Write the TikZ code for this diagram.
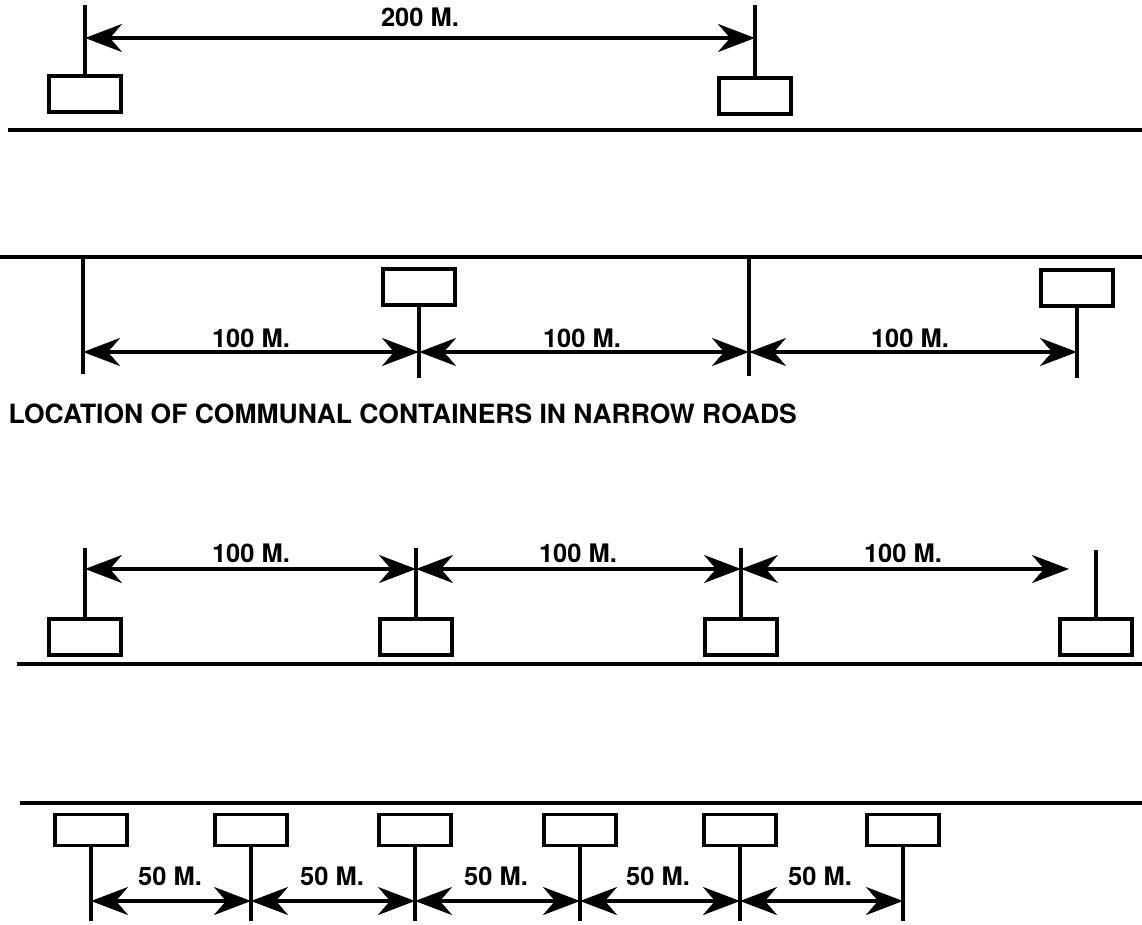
\documentclass[tikz,border=0pt]{standalone}
\usepackage{fontspec}
\setmainfont{TeX Gyre Heros}
\usetikzlibrary{arrows.meta,positioning}

\begin{document}
\begin{tikzpicture}[x=1pt,y=-1pt,line width=3.3pt,
  box/.style={draw,rectangle,minimum width=72pt,minimum height=36pt,inner sep=0pt},
  lowbox/.style={box,minimum height=31pt},
  dim/.style={{Stealth[length=37pt,width=28pt,inset=12pt]}-{Stealth[length=37pt,width=28pt,inset=12pt]}},
  lbl/.style={font=\fontsize{25.5}{30}\bfseries\selectfont,anchor=base,inner sep=0pt}]
  \useasboundingbox (0,0) rectangle (1142,925);

  \draw (8,130) -- (1142,130);
  \node[box] (a1) at (85,94) {};
  \node[box] (a2) at (755,96) {};
  \coordinate (a1t) at (85,5);
  \coordinate (a2t) at (755,5);
  \coordinate (a1m) at (85,38);
  \coordinate (a2m) at (755,38);
  \draw (a1.north) -- (a1t);
  \draw (a2.north) -- (a2t);
  \draw[dim] (a1m) -- (a2m);
  \node[lbl] (d1) at (420,27) {200 M.};

  \draw (0,257) -- (1142,257);
  \node[box] (b2) at (419,287) {};
  \node[box] (b4) at (1077,288) {};
  \coordinate (b1t) at (83,257);
  \coordinate (b1b) at (83,374);
  \coordinate (b2b) at (419,378);
  \coordinate (b3t) at (749,257);
  \coordinate (b3b) at (749,376);
  \coordinate (b4b) at (1077,378);
  \coordinate (b1m) at (83,352);
  \coordinate (b2m) at (419,352);
  \coordinate (b3m) at (749,352);
  \coordinate (b4m) at (1077,352);
  \draw (b1t) -- (b1b);
  \draw (b2.south) -- (b2b);
  \draw (b3t) -- (b3b);
  \draw (b4.south) -- (b4b);
  \draw[dim] (b1m) -- (b2m);
  \draw[dim] (b2m) -- (b3m);
  \draw[dim] (b3m) -- (b4m);
  \node[lbl] (e1) at (251,347) {100 M.};
  \node[lbl] (e2) at (582,347) {100 M.};
  \node[lbl] (e3) at (910,347) {100 M.};

  \node[font=\fontsize{26.5}{32}\bfseries\selectfont,anchor=base west,inner sep=0pt] (title) at (7,423) {LOCATION OF COMMUNAL CONTAINERS IN NARROW ROADS};

  \draw (17,664) -- (1142,664);
  \node[box] (c1) at (85,637) {};
  \node[box] (c2) at (416,637) {};
  \node[box] (c3) at (741,637) {};
  \node[box] (c4) at (1096,637) {};
  \coordinate (c1t) at (85,548);
  \coordinate (c2t) at (416,548);
  \coordinate (c3t) at (741,548);
  \coordinate (c4t) at (1096,550);
  \coordinate (c1m) at (85,569);
  \coordinate (c2m) at (416,569);
  \coordinate (c3m) at (741,569);
  \coordinate (c4m) at (1069,569);
  \draw (c1.north) -- (c1t);
  \draw (c2.north) -- (c2t);
  \draw (c3.north) -- (c3t);
  \draw (c4.north) -- (c4t);
  \draw[dim] (c1m) -- (c2m);
  \draw[dim] (c2m) -- (c3m);
  \draw[dim] (c3m) -- (c4m);
  \node[lbl] (f1) at (251,562) {100 M.};
  \node[lbl] (f2) at (578,562) {100 M.};
  \node[lbl] (f3) at (903,562) {100 M.};

  \draw (20,803) -- (1142,803);
  \node[lowbox] (g1) at (91,830) {};
  \node[lowbox] (g2) at (251,830) {};
  \node[lowbox] (g3) at (415,830) {};
  \node[lowbox] (g4) at (580,830) {};
  \node[lowbox] (g5) at (740,830) {};
  \node[lowbox] (g6) at (903,830) {};
  \coordinate (g1b) at (91,921);
  \coordinate (g2b) at (251,921);
  \coordinate (g3b) at (415,921);
  \coordinate (g4b) at (580,921);
  \coordinate (g5b) at (740,921);
  \coordinate (g6b) at (903,921);
  \coordinate (g1m) at (91,901);
  \coordinate (g2m) at (251,901);
  \coordinate (g3m) at (415,901);
  \coordinate (g4m) at (580,901);
  \coordinate (g5m) at (740,901);
  \coordinate (g6m) at (903,901);
  \draw (g1.south) -- (g1b);
  \draw (g2.south) -- (g2b);
  \draw (g3.south) -- (g3b);
  \draw (g4.south) -- (g4b);
  \draw (g5.south) -- (g5b);
  \draw (g6.south) -- (g6b);
  \draw[dim] (g1m) -- (g2m);
  \draw[dim] (g2m) -- (g3m);
  \draw[dim] (g3m) -- (g4m);
  \draw[dim] (g4m) -- (g5m);
  \draw[dim] (g5m) -- (g6m);
  \node[lbl] (h1) at (170,885) {50 M.};
  \node[lbl] (h2) at (332,885) {50 M.};
  \node[lbl] (h3) at (496,885) {50 M.};
  \node[lbl] (h4) at (658,885) {50 M.};
  \node[lbl] (h5) at (820,885) {50 M.};
\end{tikzpicture}
\end{document}
